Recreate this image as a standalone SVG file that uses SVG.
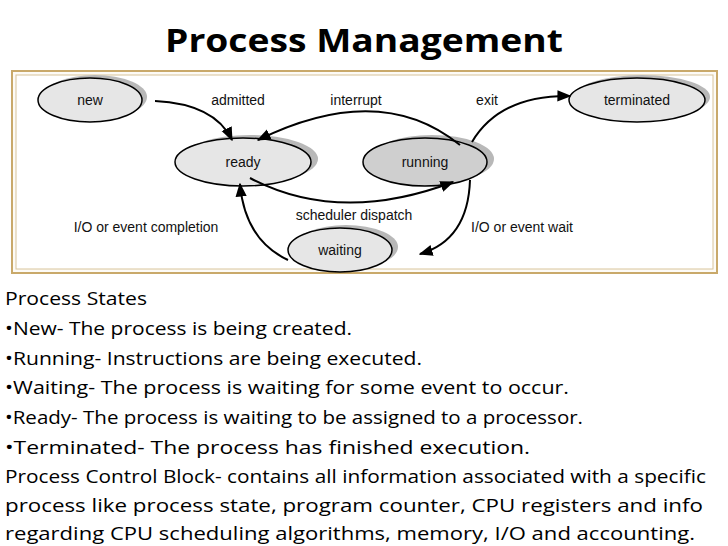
<svg xmlns="http://www.w3.org/2000/svg" width="728" height="546" viewBox="0 0 728 546">
<defs>
<marker id="ah" viewBox="0 0 10 10" refX="9" refY="5" markerWidth="7" markerHeight="7" orient="auto"><path d="M0,1 L10,5 L0,9 z" fill="#000"/></marker>
</defs>
<style>
.sh{fill:#b8b8b8}
.st{fill:#e6e6e6;stroke:#000;stroke-width:1.5}
.lb{font-family:"Liberation Sans",Arial,sans-serif;font-size:14px;text-anchor:middle;fill:#111}
.c{fill:none;stroke:#000;stroke-width:2;marker-end:url(#ah)}
.t{font-family:"Open Sans","Liberation Sans",sans-serif;font-size:18px;fill:#000}
</style>
<rect width="728" height="546" fill="#fff"/>
<text x="364" y="52" text-anchor="middle" font-family="'Open Sans','Liberation Sans',sans-serif" font-weight="bold" font-size="33" textLength="398" lengthAdjust="spacingAndGlyphs">Process Management</text>
<rect x="12" y="71" width="705" height="202" fill="#fdfbf6" stroke="#c9a96a" stroke-width="2"/>
<rect x="16" y="75" width="697" height="194" fill="#fff" stroke="#d8c49a" stroke-width="1"/>
<g id="new"><ellipse class="sh" cx="95" cy="97" rx="52" ry="22"/><ellipse class="st" cx="90" cy="100" rx="52" ry="22"/><text class="lb" x="90" y="105">new</text></g>
<g id="terminated"><ellipse class="sh" cx="642" cy="97" rx="68" ry="22"/><ellipse class="st" cx="637" cy="100" rx="68" ry="22"/><text class="lb" x="637" y="105">terminated</text></g>
<g id="ready"><ellipse class="sh" cx="250" cy="159" rx="68" ry="24"/><ellipse class="st" cx="243" cy="162" rx="68" ry="24"/><text class="lb" x="243" y="167">ready</text></g>
<g id="running"><ellipse class="sh" cx="432" cy="159" rx="62" ry="24"/><ellipse class="st" style="fill:#cfcfcf" cx="425" cy="162" rx="62" ry="24"/><text class="lb" x="425" y="167">running</text></g>
<g id="waiting"><ellipse class="sh" cx="346" cy="247" rx="52" ry="22"/><ellipse class="st" cx="340" cy="250" rx="52" ry="22"/><text class="lb" x="340" y="255">waiting</text></g>
<g id="connectors">
<path class="c" d="M155,101 Q215,104 232,140"/>
<path class="c" d="M460,145 Q380,80 258,140"/>
<path class="c" d="M472,142 Q500,95 570,96"/>
<path class="c" d="M250,178 Q340,225 453,182"/>
<path class="c" d="M470,180 Q468,240 420,254"/>
<path class="c" d="M288,260 Q245,240 240,184"/>
</g>
<g>
<text class="lb" x="238" y="105">admitted</text>
<text class="lb" x="356" y="105">interrupt</text>
<text class="lb" x="487" y="105">exit</text>
<text class="lb" x="354" y="220">scheduler dispatch</text>
<text class="lb" x="146" y="232">I/O or event completion</text>
<text class="lb" x="522" y="232">I/O or event wait</text>
</g>
<g>
<text class="t" x="5" y="305" textLength="142" lengthAdjust="spacingAndGlyphs">Process States</text>
<text class="t" x="5" y="335" textLength="347" lengthAdjust="spacingAndGlyphs">•New- The process is being created.</text>
<text class="t" x="5" y="365" textLength="417" lengthAdjust="spacingAndGlyphs">•Running- Instructions are being executed.</text>
<text class="t" x="5" y="394" textLength="564" lengthAdjust="spacingAndGlyphs">•Waiting- The process is waiting for some event to occur.</text>
<text class="t" x="5" y="424" textLength="578" lengthAdjust="spacingAndGlyphs">•Ready- The process is waiting to be assigned to a processor.</text>
<text class="t" x="5" y="454" textLength="525" lengthAdjust="spacingAndGlyphs">•Terminated- The process has finished execution.</text>
<text class="t" x="5" y="483" textLength="701" lengthAdjust="spacingAndGlyphs">Process Control Block- contains all information associated with a specific</text>
<text class="t" x="5" y="512" textLength="698" lengthAdjust="spacingAndGlyphs">process like process state, program counter, CPU registers and info</text>
<text class="t" x="5" y="540" textLength="690" lengthAdjust="spacingAndGlyphs">regarding CPU scheduling algorithms, memory, I/O and accounting.</text>
</g>
</svg>
